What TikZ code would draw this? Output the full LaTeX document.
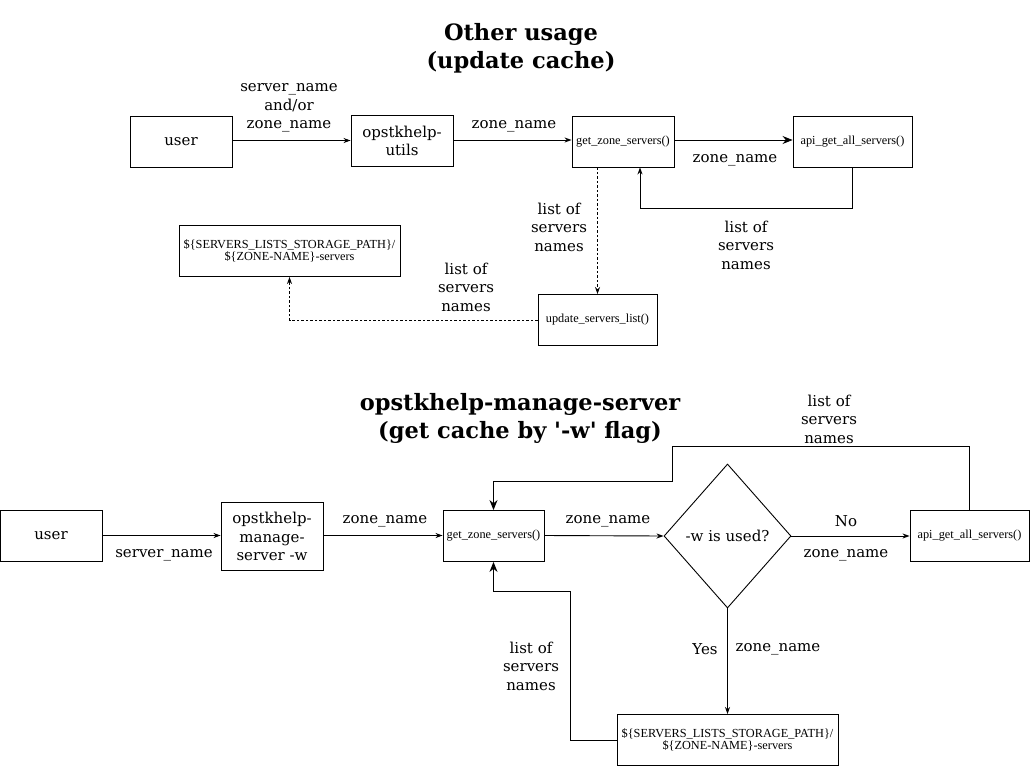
\documentclass[tikz,border=0pt]{standalone}
\usepackage{fontspec}
\setmainfont{DejaVu Serif}
\newfontfamily\titlefont[Ligatures=TeXOff]{DejaVu Serif}
\newfontfamily\boxfont{Liberation Serif}
\usetikzlibrary{arrows.meta,shapes.geometric}
\begin{document}
\begin{tikzpicture}[x=1pt,y=-1pt,
  box/.style={draw=black,line width=0.9pt,minimum width=102pt,minimum height=51pt,inner sep=2pt,align=center,font=\fontsize{15}{18.5}\selectfont},
  fbox/.style={draw=black,line width=0.9pt,minimum height=51pt,inner sep=2pt,align=center,font=\boxfont\fontsize{12.3}{12.5}\selectfont},
  lbl/.style={align=center,inner sep=0pt,yshift=-2pt,font=\fontsize{15}{18.5}\selectfont},
  ttl/.style={align=center,inner sep=0pt,font=\titlefont\bfseries\fontsize{22.5}{28}\selectfont},
  con/.style={line width=0.9pt,-{Stealth[length=7pt,width=5pt]}},
  bcon/.style={line width=0.9pt,-{Stealth[length=10pt,width=8pt]}},
  dcon/.style={line width=0.9pt,dashed,dash pattern=on 2.5pt off 2pt,-{Stealth[length=7pt,width=5pt]}}
]
\useasboundingbox (0,0) rectangle (1030,766);
\fill[white] (0,0) rectangle (1030,766);

% ---------- top part ----------
\node[ttl] (t1) at (521,48) {Other usage\\(update cache)};

\node[box] (user) at (181,141.5) {user};
\node[box] (utils) at (402,141) {opstkhelp-\\utils};
\node[fbox,minimum width=102pt] (gzs) at (623,141.5) {get\_zone\_servers()};
\node[fbox,minimum width=119pt] (api) at (852.5,141.5) {api\_get\_all\_servers()};
\node[fbox,minimum width=221pt] (srv) at (289.5,251) {\$\{SERVERS\_LISTS\_STORAGE\_PATH\}/\\\$\{ZONE-NAME\}-servers};
\node[fbox,minimum width=119pt] (upd) at (597.5,320) {update\_servers\_list()};

\draw[con] (user.east |- 0,140.5) -- (utils.west |- 0,140.5);
\node[lbl] (l1) at (289,106) {server\_name\\and/or\\zone\_name};
\draw[con] (utils.east |- 0,140) -- (gzs.west |- 0,140);
\node[lbl] (l2) at (514,124) {zone\_name};
\draw[bcon] (gzs.east |- 0,140) -- (api.west |- 0,140);
\node[lbl] (l3) at (735,158) {zone\_name};
\coordinate (a1) at (640,208);
\draw[con] (api.south) |- (a1) -- (a1 |- gzs.south);
\node[lbl] (l4) at (746,243) {list of\\servers\\names};
\draw[dcon] (upd.north |- gzs.south) -- (upd.north);
\node[lbl] (l5) at (559,225) {list of\\servers\\names};
\draw[dcon] (upd.west) -| (srv.south);
\node[lbl] (l6) at (466,285) {list of\\servers\\names};

% ---------- bottom part ----------
\node[ttl] (t2) at (520,418) {opstkhelp-manage-server\\(get cache by '-w' flag)};

\node[box] (user2) at (51,536) {user};
\node[box,minimum height=68pt] (man) at (272,536.5) {opstkhelp-\\manage-\\server -w};
\node[fbox,minimum width=101pt] (gzs2) at (493.5,536) {get\_zone\_servers()};
\node[diamond,draw=black,line width=0.9pt,minimum width=127pt,minimum height=144pt,inner sep=0pt,font=\fontsize{15}{18.5}\selectfont] (dia) at (727.5,536) {-w is used?};
\node[fbox,minimum width=119pt] (api2) at (969.5,536) {api\_get\_all\_servers()};
\node[fbox,minimum width=221pt] (srv2) at (727.5,740) {\$\{SERVERS\_LISTS\_STORAGE\_PATH\}/\\\$\{ZONE-NAME\}-servers};

\draw[con] (user2.east |- 0,535.5) -- (man.west |- 0,535.5);
\node[lbl] (m1) at (164,553) {server\_name};
\draw[con] (man.east |- 0,535.5) -- (gzs2.west |- 0,535.5);
\node[lbl] (m2) at (385,519) {zone\_name};
\draw[con] (gzs2.east |- 0,535.5) -- (dia.west);
\node[lbl] (m3) at (608,519) {zone\_name};
\draw[con] (dia.east) -- (api2.west |- dia.east);
\node[lbl] (m4) at (846,519) {No};
\node[lbl] (m5) at (846,553) {zone\_name};
\draw[con] (dia.south) -- (srv2.north);
\node[lbl] (m6) at (705,647) {Yes};
\node[lbl] (m7) at (778,647) {zone\_name};
\coordinate (c1) at (672,446);
\coordinate (c2) at (493.5,481);
\draw[bcon] (api2.north) |- (c1) |- (c2) -- (gzs2.north);
\node[lbl] (m8) at (829,417) {list of\\servers\\names};
\coordinate (d1) at (570,591);
\draw[bcon] (srv2.west) -| (d1) -| (gzs2.south);
\node[lbl] (m9) at (531,664) {list of\\servers\\names};
\end{tikzpicture}
\end{document}
